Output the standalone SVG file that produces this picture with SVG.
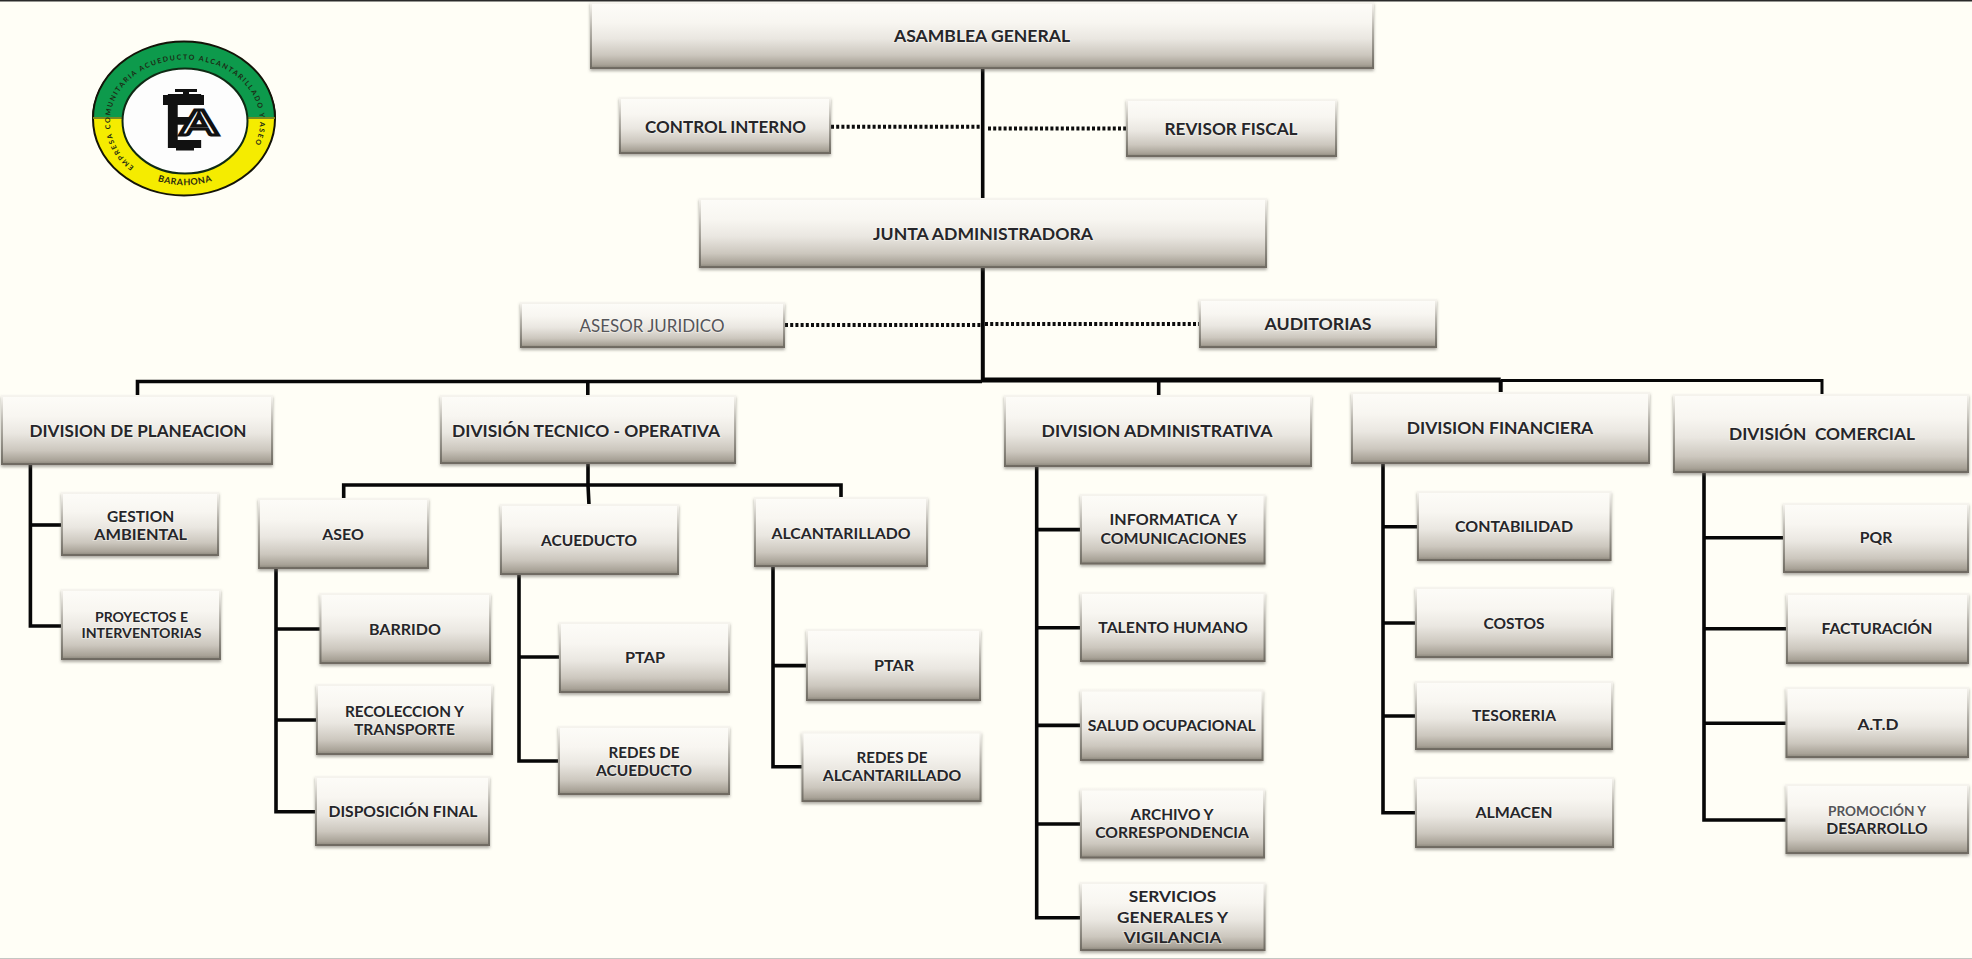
<svg xmlns="http://www.w3.org/2000/svg" width="1972" height="959" viewBox="0 0 1972 959">
<style>
.bx{fill:url(#boxFill);stroke:url(#boxEdge);stroke-width:2;filter:url(#boxShadow)}
text{font-family:Lato,"Liberation Sans",sans-serif;font-weight:700;fill:#26262a;text-anchor:middle;stroke:#fffef8;stroke-opacity:.4;stroke-width:2px;paint-order:stroke}
.t{font-size:17.5px}
.s{font-size:15.5px}
.x{font-size:14px}
.c{fill:none;stroke:#070707;stroke-width:3.6}
.h{fill:none;stroke:#050505;stroke-width:5}
.d{fill:none;stroke:#0c0c0c;stroke-width:4;stroke-dasharray:3 2.2}
.ring{font-size:7px;fill:#1c2a14;stroke:none;letter-spacing:1.5px;text-anchor:start}
.ringb{font-size:9px;fill:#2a2a10;stroke:none;letter-spacing:.5px}
</style>
<defs>
<linearGradient id="boxFill" x1="0" y1="0" x2="0" y2="1">
<stop offset="0" stop-color="#fdfcf8"/>
<stop offset=".3" stop-color="#f8f6f1"/>
<stop offset=".55" stop-color="#eae7e1"/>
<stop offset=".8" stop-color="#ccc7be"/>
<stop offset=".95" stop-color="#a8a297"/>
<stop offset="1" stop-color="#8b867b"/>
</linearGradient>
<linearGradient id="boxEdge" x1="0" y1="0" x2="0" y2="1">
<stop offset="0" stop-color="#f6f4ee"/>
<stop offset=".4" stop-color="#b5b2aa"/>
<stop offset="1" stop-color="#6f6b62"/>
</linearGradient>
<filter id="boxShadow" x="-5%" y="-10%" width="110%" height="125%">
<feDropShadow dx="0" dy="2" stdDeviation="1.6" flood-color="#6a675f" flood-opacity=".55"/>
</filter>
<path id="ringPath" d="M134 167A75 62 0 1 1 236 167"/>
<path id="ringBottom" d="M150 178A78 68 0 0 0 220 178"/>
</defs>
<rect width="1972" height="959" fill="#fffef6"/>
<rect width="1972" height="1.5" fill="#2a2a2a"/>
<rect y="958" width="1972" height="1" fill="#c6c6c2"/>

<g id="logo">
<ellipse cx="184" cy="119" rx="91" ry="76.5" fill="#f5ec00" stroke="#141408" stroke-width="2"/>
<path d="M93 118A91 76.5 0 0 1 275 118Z" fill="#0d9a4c" stroke="#141408" stroke-width="2"/>
<path d="M93 118H275" stroke="#7a8a20" stroke-width="2" fill="none"/>
<ellipse cx="185" cy="121" rx="62.5" ry="52.5" fill="#fdfdfd" stroke="#0f2a14" stroke-width="2"/>
<text class="ring"><textPath href="#ringPath">EMPRESA COMUNITARIA ACUEDUCTO ALCANTARILLADO Y ASEO</textPath></text>
<text class="ringb"><textPath href="#ringBottom" startOffset="50%">BARAHONA</textPath></text>
<rect x="175" y="89" width="22" height="3" fill="#111"/>
<rect x="183" y="91" width="6" height="6" fill="#111"/>
<text x="183" y="148" font-size="74" textLength="42" lengthAdjust="spacingAndGlyphs" style="fill:#111;stroke:none">E</text>
<rect x="163" y="95" width="41" height="10" fill="#111"/>
<rect x="176" y="147" width="18" height="3.5" fill="#111"/>
<text x="199" y="135" font-size="35" textLength="37" lengthAdjust="spacingAndGlyphs" style="fill:#fff;stroke:#111;stroke-opacity:1;stroke-width:3px;paint-order:normal">A</text>
</g>

<g id="connectors">
<path class="c" d="M982.7 68V199"/>
<path class="c" d="M982.8 267V381" style="stroke-width:4"/>
<path class="d" d="M831 126.7H982"/>
<path class="d" d="M988 128.5H1126"/>
<path class="d" d="M785 325H982"/>
<path class="d" d="M985 324H1200"/>
<path class="c" d="M137.5 396V381.5H982"/>
<path class="h" d="M982 380H1500.7"/>
<path class="c" d="M1500.7 380.5H1822V395" style="stroke-width:3"/>
<path class="c" d="M587.8 381V396"/>
<path class="c" d="M1158.7 380V396"/>
<path class="c" d="M1500.7 380V393" style="stroke-width:4"/>
<path class="c" d="M588 464V485L589 505"/>
<path class="c" d="M343.7 499V485H841V498"/>
<path class="c" d="M30.4 464V626H62"/>
<path class="c" d="M30.4 525H62"/>
<path class="c" d="M276 568V811.7H315"/>
<path class="c" d="M276 629H320.5"/>
<path class="c" d="M276 720H317"/>
<path class="c" d="M519 574V761H558"/>
<path class="c" d="M519 657H559"/>
<path class="c" d="M773 566V766.7H802"/>
<path class="c" d="M773 665.6H807"/>
<path class="c" d="M1036.7 466V917.7H1081"/>
<path class="c" d="M1036.7 529.6H1081"/>
<path class="c" d="M1036.7 627.7H1081"/>
<path class="c" d="M1036.7 725.4H1081"/>
<path class="c" d="M1036.7 824H1081"/>
<path class="c" d="M1383 463V812.7H1416"/>
<path class="c" d="M1383 526.7H1418"/>
<path class="c" d="M1383 623H1416"/>
<path class="c" d="M1383 716H1416"/>
<path class="c" d="M1704 472V820H1786.5"/>
<path class="c" d="M1704 537.7H1784"/>
<path class="c" d="M1704 628.7H1787"/>
<path class="c" d="M1704 723.3H1786.5"/>
</g>

<g id="asamblea-general"><rect class="bx" x="591" y="3" width="782" height="65"/><text class="t" x="982" y="41.5" textLength="176" lengthAdjust="spacingAndGlyphs">ASAMBLEA GENERAL</text></g>
<g id="control-interno"><rect class="bx" x="620" y="98" width="210" height="55"/><text class="t" x="725.6" y="132.5" textLength="161" lengthAdjust="spacingAndGlyphs">CONTROL INTERNO</text></g>
<g id="revisor-fiscal"><rect class="bx" x="1127" y="100" width="209" height="56"/><text class="t" x="1231" y="134.5" textLength="133" lengthAdjust="spacingAndGlyphs">REVISOR FISCAL</text></g>
<g id="junta-administradora"><rect class="bx" x="700" y="199" width="566" height="68"/><text class="t" x="983" y="239.5" textLength="220" lengthAdjust="spacingAndGlyphs">JUNTA ADMINISTRADORA</text></g>
<g id="asesor-juridico"><rect class="bx" x="521" y="303" width="263" height="44"/><text class="t" x="652" y="331.5" textLength="145" lengthAdjust="spacingAndGlyphs" style="font-weight:400;fill:#55555a">ASESOR JURIDICO</text></g>
<g id="auditorias"><rect class="bx" x="1200" y="300" width="236" height="47"/><text class="t" x="1318" y="329.5" textLength="107" lengthAdjust="spacingAndGlyphs">AUDITORIAS</text></g>

<g id="division-planeacion"><rect class="bx" x="2" y="396" width="270" height="68"/><text class="t" x="138" y="436.5" textLength="217" lengthAdjust="spacingAndGlyphs">DIVISION DE PLANEACION</text></g>
<g id="division-tecnico-operativa"><rect class="bx" x="441" y="396" width="294" height="67"/><text class="t" x="586" y="436.5" textLength="268" lengthAdjust="spacingAndGlyphs">DIVISIÓN TECNICO - OPERATIVA</text></g>
<g id="division-administrativa"><rect class="bx" x="1005" y="396" width="306" height="70"/><text class="t" x="1157" y="436.5" textLength="231" lengthAdjust="spacingAndGlyphs">DIVISION ADMINISTRATIVA</text></g>
<g id="division-financiera"><rect class="bx" x="1352" y="393" width="297" height="70"/><text class="t" x="1500" y="433.5" textLength="186.5" lengthAdjust="spacingAndGlyphs">DIVISION FINANCIERA</text></g>
<g id="division-comercial"><rect class="bx" x="1674" y="395" width="294" height="77"/><text class="t" x="1822" y="439.5" textLength="186" lengthAdjust="spacingAndGlyphs" xml:space="preserve">DIVISIÓN  COMERCIAL</text></g>

<g id="gestion-ambiental"><rect class="bx" x="62" y="493" width="156" height="62"/><text class="s" x="140.6" y="521.5" textLength="67" lengthAdjust="spacingAndGlyphs">GESTION</text><text class="s" x="140.6" y="539.5" textLength="93" lengthAdjust="spacingAndGlyphs">AMBIENTAL</text></g>
<g id="proyectos-interventorias"><rect class="bx" x="62" y="590" width="158" height="69"/><text class="x" x="141.5" y="622" textLength="93" lengthAdjust="spacingAndGlyphs">PROYECTOS E</text><text class="x" x="141.5" y="638" textLength="120" lengthAdjust="spacingAndGlyphs">INTERVENTORIAS</text></g>

<g id="aseo"><rect class="bx" x="259" y="499" width="169" height="69"/><text class="s" x="343" y="539.5" textLength="41.5" lengthAdjust="spacingAndGlyphs">ASEO</text></g>
<g id="acueducto"><rect class="bx" x="501" y="505" width="177" height="69"/><text class="s" x="589" y="546.2" textLength="96" lengthAdjust="spacingAndGlyphs">ACUEDUCTO</text></g>
<g id="alcantarillado"><rect class="bx" x="755" y="498" width="172" height="68"/><text class="s" x="841" y="538.5" textLength="139" lengthAdjust="spacingAndGlyphs">ALCANTARILLADO</text></g>

<g id="barrido"><rect class="bx" x="320.5" y="594" width="169.5" height="69"/><text class="s" x="405" y="634.5" textLength="72" lengthAdjust="spacingAndGlyphs">BARRIDO</text></g>
<g id="recoleccion-transporte"><rect class="bx" x="317" y="685" width="175" height="69"/><text class="s" x="404.5" y="716.5" textLength="119" lengthAdjust="spacingAndGlyphs">RECOLECCION Y</text><text class="s" x="404.5" y="734.5" textLength="101" lengthAdjust="spacingAndGlyphs">TRANSPORTE</text></g>
<g id="disposicion-final"><rect class="bx" x="316" y="777" width="173" height="68"/><text class="s" x="403" y="816.5" textLength="149" lengthAdjust="spacingAndGlyphs">DISPOSICIÓN FINAL</text></g>

<g id="ptap"><rect class="bx" x="560" y="623" width="169" height="69"/><text class="s" x="645" y="662.5" textLength="40" lengthAdjust="spacingAndGlyphs">PTAP</text></g>
<g id="redes-acueducto"><rect class="bx" x="559" y="727" width="170" height="67"/><text class="s" x="644" y="757.5" textLength="71" lengthAdjust="spacingAndGlyphs">REDES DE</text><text class="s" x="644" y="775.5" textLength="96" lengthAdjust="spacingAndGlyphs">ACUEDUCTO</text></g>

<g id="ptar"><rect class="bx" x="807" y="630" width="173" height="70"/><text class="s" x="894" y="670.5" textLength="40" lengthAdjust="spacingAndGlyphs">PTAR</text></g>
<g id="redes-alcantarillado"><rect class="bx" x="802.5" y="732.5" width="178" height="68.5"/><text class="s" x="892" y="763.2" textLength="71" lengthAdjust="spacingAndGlyphs">REDES DE</text><text class="s" x="892" y="780.5" textLength="138.5" lengthAdjust="spacingAndGlyphs">ALCANTARILLADO</text></g>

<g id="informatica-comunicaciones"><rect class="bx" x="1081" y="495" width="183.5" height="68.5"/><text class="s" x="1173.5" y="525" textLength="128" lengthAdjust="spacingAndGlyphs" xml:space="preserve">INFORMATICA  Y</text><text class="s" x="1173.5" y="543.5" textLength="146" lengthAdjust="spacingAndGlyphs">COMUNICACIONES</text></g>
<g id="talento-humano"><rect class="bx" x="1081" y="593" width="183.5" height="68"/><text class="s" x="1173" y="633.2" textLength="149.5" lengthAdjust="spacingAndGlyphs">TALENTO HUMANO</text></g>
<g id="salud-ocupacional"><rect class="bx" x="1081" y="690.5" width="181.5" height="69.5"/><text class="s" x="1171.8" y="731.2" textLength="168" lengthAdjust="spacingAndGlyphs">SALUD OCUPACIONAL</text></g>
<g id="archivo-correspondencia"><rect class="bx" x="1081" y="789.5" width="183" height="68"/><text class="s" x="1172" y="820.3" textLength="83" lengthAdjust="spacingAndGlyphs">ARCHIVO Y</text><text class="s" x="1172" y="838.3" textLength="153.6" lengthAdjust="spacingAndGlyphs">CORRESPONDENCIA</text></g>
<g id="servicios-generales-vigilancia"><rect class="bx" x="1081" y="883" width="183.5" height="67"/><text class="s" x="1172.6" y="901.5" textLength="87.5" lengthAdjust="spacingAndGlyphs">SERVICIOS</text><text class="s" x="1172.6" y="922.5" textLength="111" lengthAdjust="spacingAndGlyphs">GENERALES Y</text><text class="s" x="1172.6" y="942.5" textLength="97.6" lengthAdjust="spacingAndGlyphs">VIGILANCIA</text></g>

<g id="contabilidad"><rect class="bx" x="1418" y="492" width="192.5" height="68"/><text class="s" x="1514" y="532.2" textLength="118" lengthAdjust="spacingAndGlyphs">CONTABILIDAD</text></g>
<g id="costos"><rect class="bx" x="1416" y="588" width="196" height="69"/><text class="s" x="1514" y="628.5" textLength="61" lengthAdjust="spacingAndGlyphs">COSTOS</text></g>
<g id="tesoreria"><rect class="bx" x="1416" y="682" width="196" height="67"/><text class="s" x="1514" y="720.5" textLength="84" lengthAdjust="spacingAndGlyphs">TESORERIA</text></g>
<g id="almacen"><rect class="bx" x="1416" y="778" width="197" height="69"/><text class="s" x="1514" y="818.2" textLength="77" lengthAdjust="spacingAndGlyphs">ALMACEN</text></g>

<g id="pqr"><rect class="bx" x="1784" y="504" width="184" height="68"/><text class="s" x="1876" y="543.2" textLength="32.5" lengthAdjust="spacingAndGlyphs">PQR</text></g>
<g id="facturacion"><rect class="bx" x="1787" y="594" width="181" height="69"/><text class="s" x="1877" y="634.2" textLength="111" lengthAdjust="spacingAndGlyphs">FACTURACIÓN</text></g>
<g id="atd"><rect class="bx" x="1786.5" y="688" width="181.5" height="69"/><text class="s" x="1878" y="729.5" textLength="41" lengthAdjust="spacingAndGlyphs">A.T.D</text></g>
<g id="promocion-desarrollo"><rect class="bx" x="1786.5" y="785" width="181.5" height="68"/><text class="x" x="1877" y="815.7" textLength="98" lengthAdjust="spacingAndGlyphs" style="fill:#55555a">PROMOCIÓN Y</text><text class="s" x="1877" y="833.5" textLength="101.6" lengthAdjust="spacingAndGlyphs">DESARROLLO</text></g>
</svg>
